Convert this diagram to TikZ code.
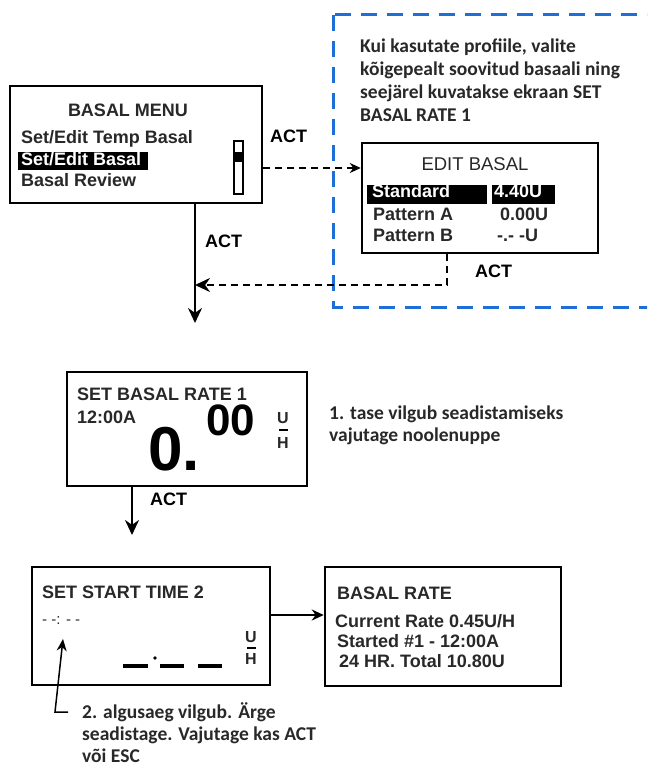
\documentclass[tikz,border=0pt]{standalone}
\usepackage{fontspec}
\setmainfont{Liberation Sans}
\newfontfamily\notefont{Carlito}
\usetikzlibrary{arrows.meta}
\definecolor{dashblue}{RGB}{30,110,215}
\definecolor{ink}{RGB}{40,40,40}

\begin{document}
\begin{tikzpicture}[>={Stealth[length=15pt,width=14pt]}, x=1pt, y=-1pt,
	screen/.style={draw, line width=2.5pt, inner sep=0pt},
	lcd/.style={anchor=base west, inner sep=0pt, text=ink, font=\fontsize{18}{21}\selectfont\bfseries},
	lcdthin/.style={anchor=base west, inner sep=0pt, text=ink, font=\fontsize{18.5}{21}\selectfont},
	note/.style={anchor=base west, inner sep=0pt, text=ink, font=\notefont\fontsize{19.5}{23}\selectfont\bfseries},
	act/.style={anchor=base west, inner sep=0pt, font=\fontsize{18}{21}\selectfont\bfseries},
	unit/.style={inner sep=0pt, text=ink, font=\fontsize{16}{16}\selectfont\bfseries},
	flow/.style={->, line width=2pt},
	back/.style={->, line width=2pt, dash pattern=on 7pt off 5pt}]
	\useasboundingbox (0,0) rectangle (647,767);
	\clip (0,0) rectangle (647,767);

	% blue frame round the profile part
	\draw[dashblue, line width=3pt, dash pattern=on 16pt off 10pt] (333,15) rectangle (700,307);
	\node[note] (hint1) at (360,53) {Kui kasutate profiile, valite};
	\node[note] (hint2) at (360,76) {kõigepealt soovitud basaali ning};
	\node[note] (hint3) at (360,99) {seejärel kuvatakse ekraan SET};
	\node[note] (hint4) at (360,122) {BASAL RATE 1};

	% BASAL MENU
	\node[screen, minimum width=252pt, minimum height=117pt] (menu) at (136,144.5) {};
	\node[lcd, anchor=base] (menutitle) at (128,117) {BASAL MENU};
	\node[lcd] (tempbasal) at (21,144) {Set/Edit Temp Basal};
	\fill (18,152) rectangle (148,170);
	\node[lcd, text=white] (setbasal) at (21,166) {Set/Edit Basal};
	\node[lcd] (review) at (21,187) {Basal Review};
	\draw[line width=2pt] (234,141) rectangle (243,194);
	\fill (234,152) rectangle (243,162);

	% EDIT BASAL
	\node[screen, minimum width=236pt, minimum height=110pt] (edit) at (480,198) {};
	\node[lcdthin, anchor=base] (edittitle) at (475,171) {EDIT BASAL};
	\fill (367,185) rectangle (487,204);
	\fill (492,185) rectangle (555,204);
	\node[lcd, text=white] (std) at (372,198) {Standard};
	\node[lcd, text=white] (stdval) at (494,198) {4.40U};
	\node[lcd] (pata) at (373,220) {Pattern A};
	\node[lcd] (pataval) at (500,220) {0.00U};
	\node[lcd] (patb) at (373,241) {Pattern B};
	\node[lcd] (patbval) at (497,241) {-.- -U};

	% SET BASAL RATE 1
	\node[screen, minimum width=240pt, minimum height=114pt] (rate) at (187,429) {};
	\node[lcd] (ratetitle) at (77,400) {SET BASAL RATE 1};
	\node[lcd] (ratetime) at (77,423) {12:00A};
	\node[anchor=base west, inner sep=0pt, font=\fontsize{62}{62}\selectfont\bfseries] (bigzero) at (148,470) {0.};
	\node[anchor=base west, inner sep=0pt, font=\fontsize{44}{44}\selectfont\bfseries] (bigdec) at (206,435) {00};
	\node[unit] (rateu) at (283,418) {U};
	\draw[line width=1.5pt] (279,430) -- (288,430);
	\node[unit] (rateh) at (283,443) {H};
	\node[note] (hint5) at (329,419) {1. tase vilgub seadistamiseks};
	\node[note] (hint6) at (329,441) {vajutage noolenuppe};

	% SET START TIME 2
	\node[screen, minimum width=238pt, minimum height=118pt] (start) at (151,626) {};
	\node[lcd] (starttitle) at (42,598) {SET START TIME 2};
	\node[lcdthin, font=\fontsize{15}{15}\selectfont] (starttime) at (42,624) {- -: - -};
	\node[unit] (startu) at (251,637) {U};
	\draw[line width=1.5pt] (247,648) -- (256,648);
	\node[unit] (starth) at (251,659) {H};
	\draw[line width=4pt] (123,666) -- (148,666);
	\fill (155,658) circle (1.8pt);
	\draw[line width=4pt] (160,666) -- (184,666);
	\draw[line width=4pt] (198,666) -- (222,666);
	\node[note] (hint7) at (82,718) {2. algusaeg vilgub. Ärge};
	\node[note] (hint8) at (82,740) {seadistage. Vajutage kas ACT};
	\node[note] (hint9) at (82,762) {või ESC};
	\coordinate (pointer) at (63,639);
	\coordinate (pointerfoot) at (55,712);
	\draw[-{Stealth[length=12pt,width=10pt]}, line width=1.5pt] (68,712) -- (pointerfoot) -- (pointer);

	% BASAL RATE
	\node[screen, minimum width=236pt, minimum height=119pt] (basal) at (443,626.5) {};
	\node[lcd] (basaltitle) at (337,599) {BASAL RATE};
	\node[lcd] (current) at (335,627) {Current Rate 0.45U/H};
	\node[lcd] (started) at (337,647) {Started \#1 - 12:00A};
	\node[lcd] (total) at (339,667) {24 HR. Total 10.80U};

	% ACT steps
	\coordinate (down1) at (195,323);
	\coordinate (join) at (195,285);
	\coordinate (corner) at (447,285);
	\coordinate (down2) at (132,535);
	\draw[back, -{Stealth[length=11pt,width=10pt]}] (menu.east |- 0,168) -- (edit.west |- 0,168);
	\node[act] (act1) at (270,143) {ACT};
	\draw[flow] (menu.south -| 195,0) -- (down1);
	\node[act] (act2) at (205,247) {ACT};
	\draw[back] (edit.south -| 447,0) -- (corner) -- (join);
	\node[act] (act3) at (475,277) {ACT};
	\draw[flow] (rate.south -| 132,0) -- (down2);
	\node[act] (act4) at (150,505) {ACT};
	\draw[flow, -{Stealth[length=12pt,width=11pt]}] (start.east |- 0,615) -- (basal.west |- 0,615);
\end{tikzpicture}
\end{document}
